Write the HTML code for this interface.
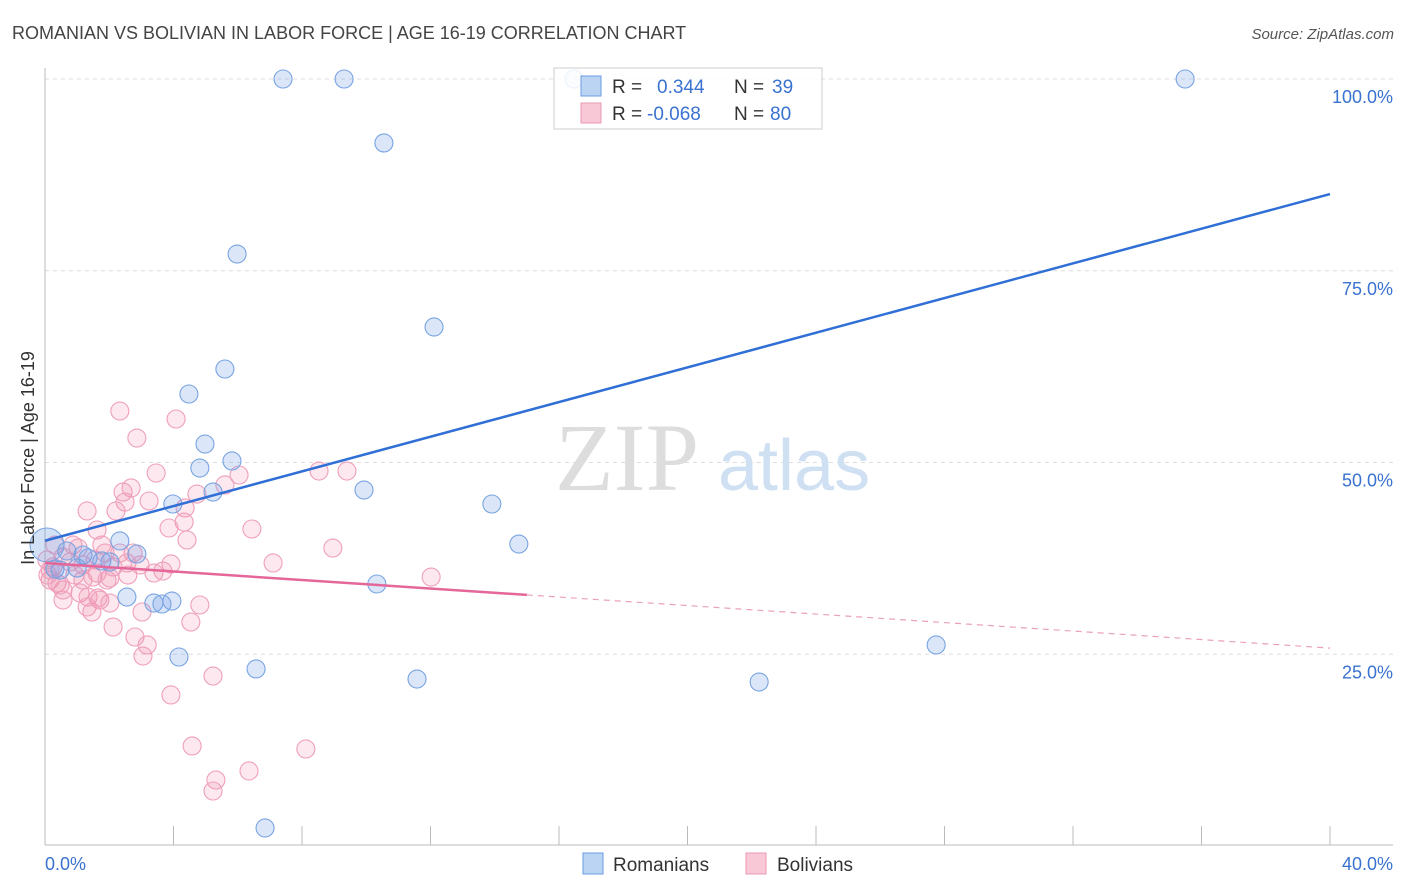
<!DOCTYPE html>
<html><head><meta charset="utf-8"><style>
body{margin:0;background:#fff;font-family:"Liberation Sans",sans-serif}
svg{display:block}
</style></head><body>
<svg width="1406" height="892" xmlns="http://www.w3.org/2000/svg">
<text x="12" y="39" font-size="18" fill="#444">ROMANIAN VS BOLIVIAN IN LABOR FORCE | AGE 16-19 CORRELATION CHART</text>
<text x="1394" y="39" font-size="15" fill="#555" font-style="italic" text-anchor="end">Source: ZipAtlas.com</text>
<g id="grid"></g>
<text x="555" y="490" font-size="96" fill="#ddd" font-family="Liberation Serif,serif">ZIP</text>
<text x="718" y="490" font-size="72" fill="#cfe0f3">atlas</text>
<g id="pts"></g>
<g id="lines"></g>
<text transform="translate(34,458) rotate(-90)" font-size="18" fill="#333" text-anchor="middle">In Labor Force | Age 16-19</text>
<g>
<rect x="554" y="68" width="268" height="61" fill="#fff" fill-opacity="0.85" stroke="#ccc"/>
<rect x="581" y="76" width="20" height="20" fill="#bcd4f4" stroke="#6a9be0"/>
<rect x="581" y="103" width="20" height="20" fill="#f9c8d6" stroke="#e99ab3"/>
<text x="612" y="93" font-size="19" fill="#333">R = </text><text x="657" y="93" font-size="19" fill="#3a72d0">0.344</text>
<text x="734" y="93" font-size="19" fill="#333">N = </text><text x="772" y="93" font-size="19" fill="#3a72d0">39</text>
<text x="612" y="120" font-size="19" fill="#333">R = </text><text x="647" y="120" font-size="19" fill="#3a72d0">-0.068</text>
<text x="734" y="120" font-size="19" fill="#333">N = </text><text x="770" y="120" font-size="19" fill="#3a72d0">80</text>
</g>
<g>
<rect x="583" y="853" width="20" height="21" fill="#bcd4f4" stroke="#6a9be0"/>
<text x="613" y="871" font-size="19" fill="#333">Romanians</text>
<rect x="746" y="853" width="20" height="21" fill="#f9c8d6" stroke="#e99ab3"/>
<text x="777" y="871" font-size="19" fill="#333">Bolivians</text>
</g>
</svg>
<script>
const NS="http://www.w3.org/2000/svg";
const yTicks=[100,75,50,25];
const yTickLabels=["100.0%","75.0%","50.0%","25.0%"];
const xTickVals=[0,4,8,12,16,20,24,28,32,36,40];
const bluePx=[[283,79],[344,79],[574,79],[1185,79],[384,143],[237,254],[434,327],[225,369],[189,394],[205,444],[200,468],[232,461],[364,490],[213,492],[492,504],[173,504],[519,544],[120,541],[137,554],[67,551],[83,555],[102,561],[77,568],[55,569],[377,584],[127,597],[154,603],[162,604],[172,601],[936,645],[179,657],[256,669],[417,679],[759,682],[265,828],[110,562],[88,558],[60,570]];
const pinkPx=[[120,411],[176,419],[137,438],[156,473],[123,492],[131,488],[125,502],[116,511],[87,511],[149,501],[197,494],[225,485],[239,475],[319,471],[347,471],[185,508],[184,522],[169,528],[187,540],[252,529],[97,530],[333,548],[273,563],[73,545],[133,553],[120,553],[105,553],[127,563],[171,564],[163,571],[154,573],[113,567],[110,578],[97,573],[83,565],[63,557],[53,567],[50,580],[57,583],[63,590],[63,600],[83,580],[93,577],[107,580],[80,593],[88,597],[100,600],[110,603],[87,607],[92,612],[98,598],[200,605],[142,612],[191,622],[113,627],[135,637],[147,645],[143,656],[213,676],[171,695],[192,746],[306,749],[249,771],[216,780],[213,791],[431,577],[47,560],[50,570],[55,545],[48,575],[70,562],[75,575],[95,560],[128,575],[60,585],[78,548],[102,545],[140,565]];
const blueX=bluePx.map(p=>+((p[0]-45)/1285*40).toFixed(2));
const blueY=bluePx.map(p=>+((846-p[1])/7.67).toFixed(2));
const pinkX=pinkPx.map(p=>+((p[0]-45)/1285*40).toFixed(2));
const pinkY=pinkPx.map(p=>+((846-p[1])/7.67).toFixed(2));
const blueTrend=[39.8,85.0];
const pinkTrend=[36.9,25.8];
const pinkSolidEnd=15;
const X=v=>45+v/40*1285, Y=v=>846-v*7.67;
function mk(t,a,p){const e=document.createElementNS(NS,t);for(const k in a)e.setAttribute(k,a[k]);p.appendChild(e);return e;}
const g=document.getElementById('grid');
yTicks.forEach((v,i)=>{
 const l=mk('line',{x1:45,x2:1393,y1:Y(v),y2:Y(v),stroke:'#ddd','stroke-dasharray':'4,4'},g);
 
 
 const t=mk('text',{x:1393,y:Y(v)+24,'font-size':18,fill:'#3a72d0','text-anchor':'end'},g);t.textContent=yTickLabels[i];
 
 
});
mk('line',{x1:45,x2:45,y1:68,y2:845,stroke:'#bbb'},g);
mk('line',{x1:45,x2:1393,y1:845,y2:845,stroke:'#bbb'},g);
xTickVals.forEach(v=>{const l=mk('line',{x1:X(v),x2:X(v),y1:826,y2:845,stroke:'#bbb'},g);
 
 });
let t0=mk('text',{x:45,y:870,'font-size':18,fill:'#3a72d0'},g);t0.textContent='0.0%';
let t1=mk('text',{x:1393,y:870,'font-size':18,fill:'#3a72d0','text-anchor':'end'},g);t1.textContent='40.0%';
const pg=document.getElementById('pts');
pinkX.forEach((x,i)=>{const c=mk('circle',{cx:X(x),cy:Y(pinkY[i]),r:9,fill:'rgba(242,140,170,0.2)',stroke:'#ef9fbb','stroke-width':1.1},pg);
 
 });
blueX.forEach((x,i)=>{const c=mk('circle',{cx:X(x),cy:Y(blueY[i]),r:9,fill:'rgba(110,155,230,0.25)',stroke:'#78a4e2','stroke-width':1.1},pg);
 
 });
const big=mk('circle',{cx:47,cy:545,r:17,fill:'rgba(110,155,230,0.3)',stroke:'#78a4e2'},pg);


const lg=document.getElementById('lines');
const bl=mk('line',{x1:X(0),y1:Y(blueTrend[0]),x2:X(40),y2:Y(blueTrend[1]),stroke:'#2f6fd6','stroke-width':2.5},lg);


const pe=pinkTrend[0]+(pinkTrend[1]-pinkTrend[0])*pinkSolidEnd/40;
const pl=mk('line',{x1:X(0),y1:Y(pinkTrend[0]),x2:X(pinkSolidEnd),y2:Y(pe),stroke:'#e5679a','stroke-width':2.5},lg);


const pd=mk('line',{x1:X(pinkSolidEnd),y1:Y(pe),x2:X(40),y2:Y(pinkTrend[1]),stroke:'#eaa0bd','stroke-width':1.2,'stroke-dasharray':'6,5'},lg);


</script>
</body></html>
